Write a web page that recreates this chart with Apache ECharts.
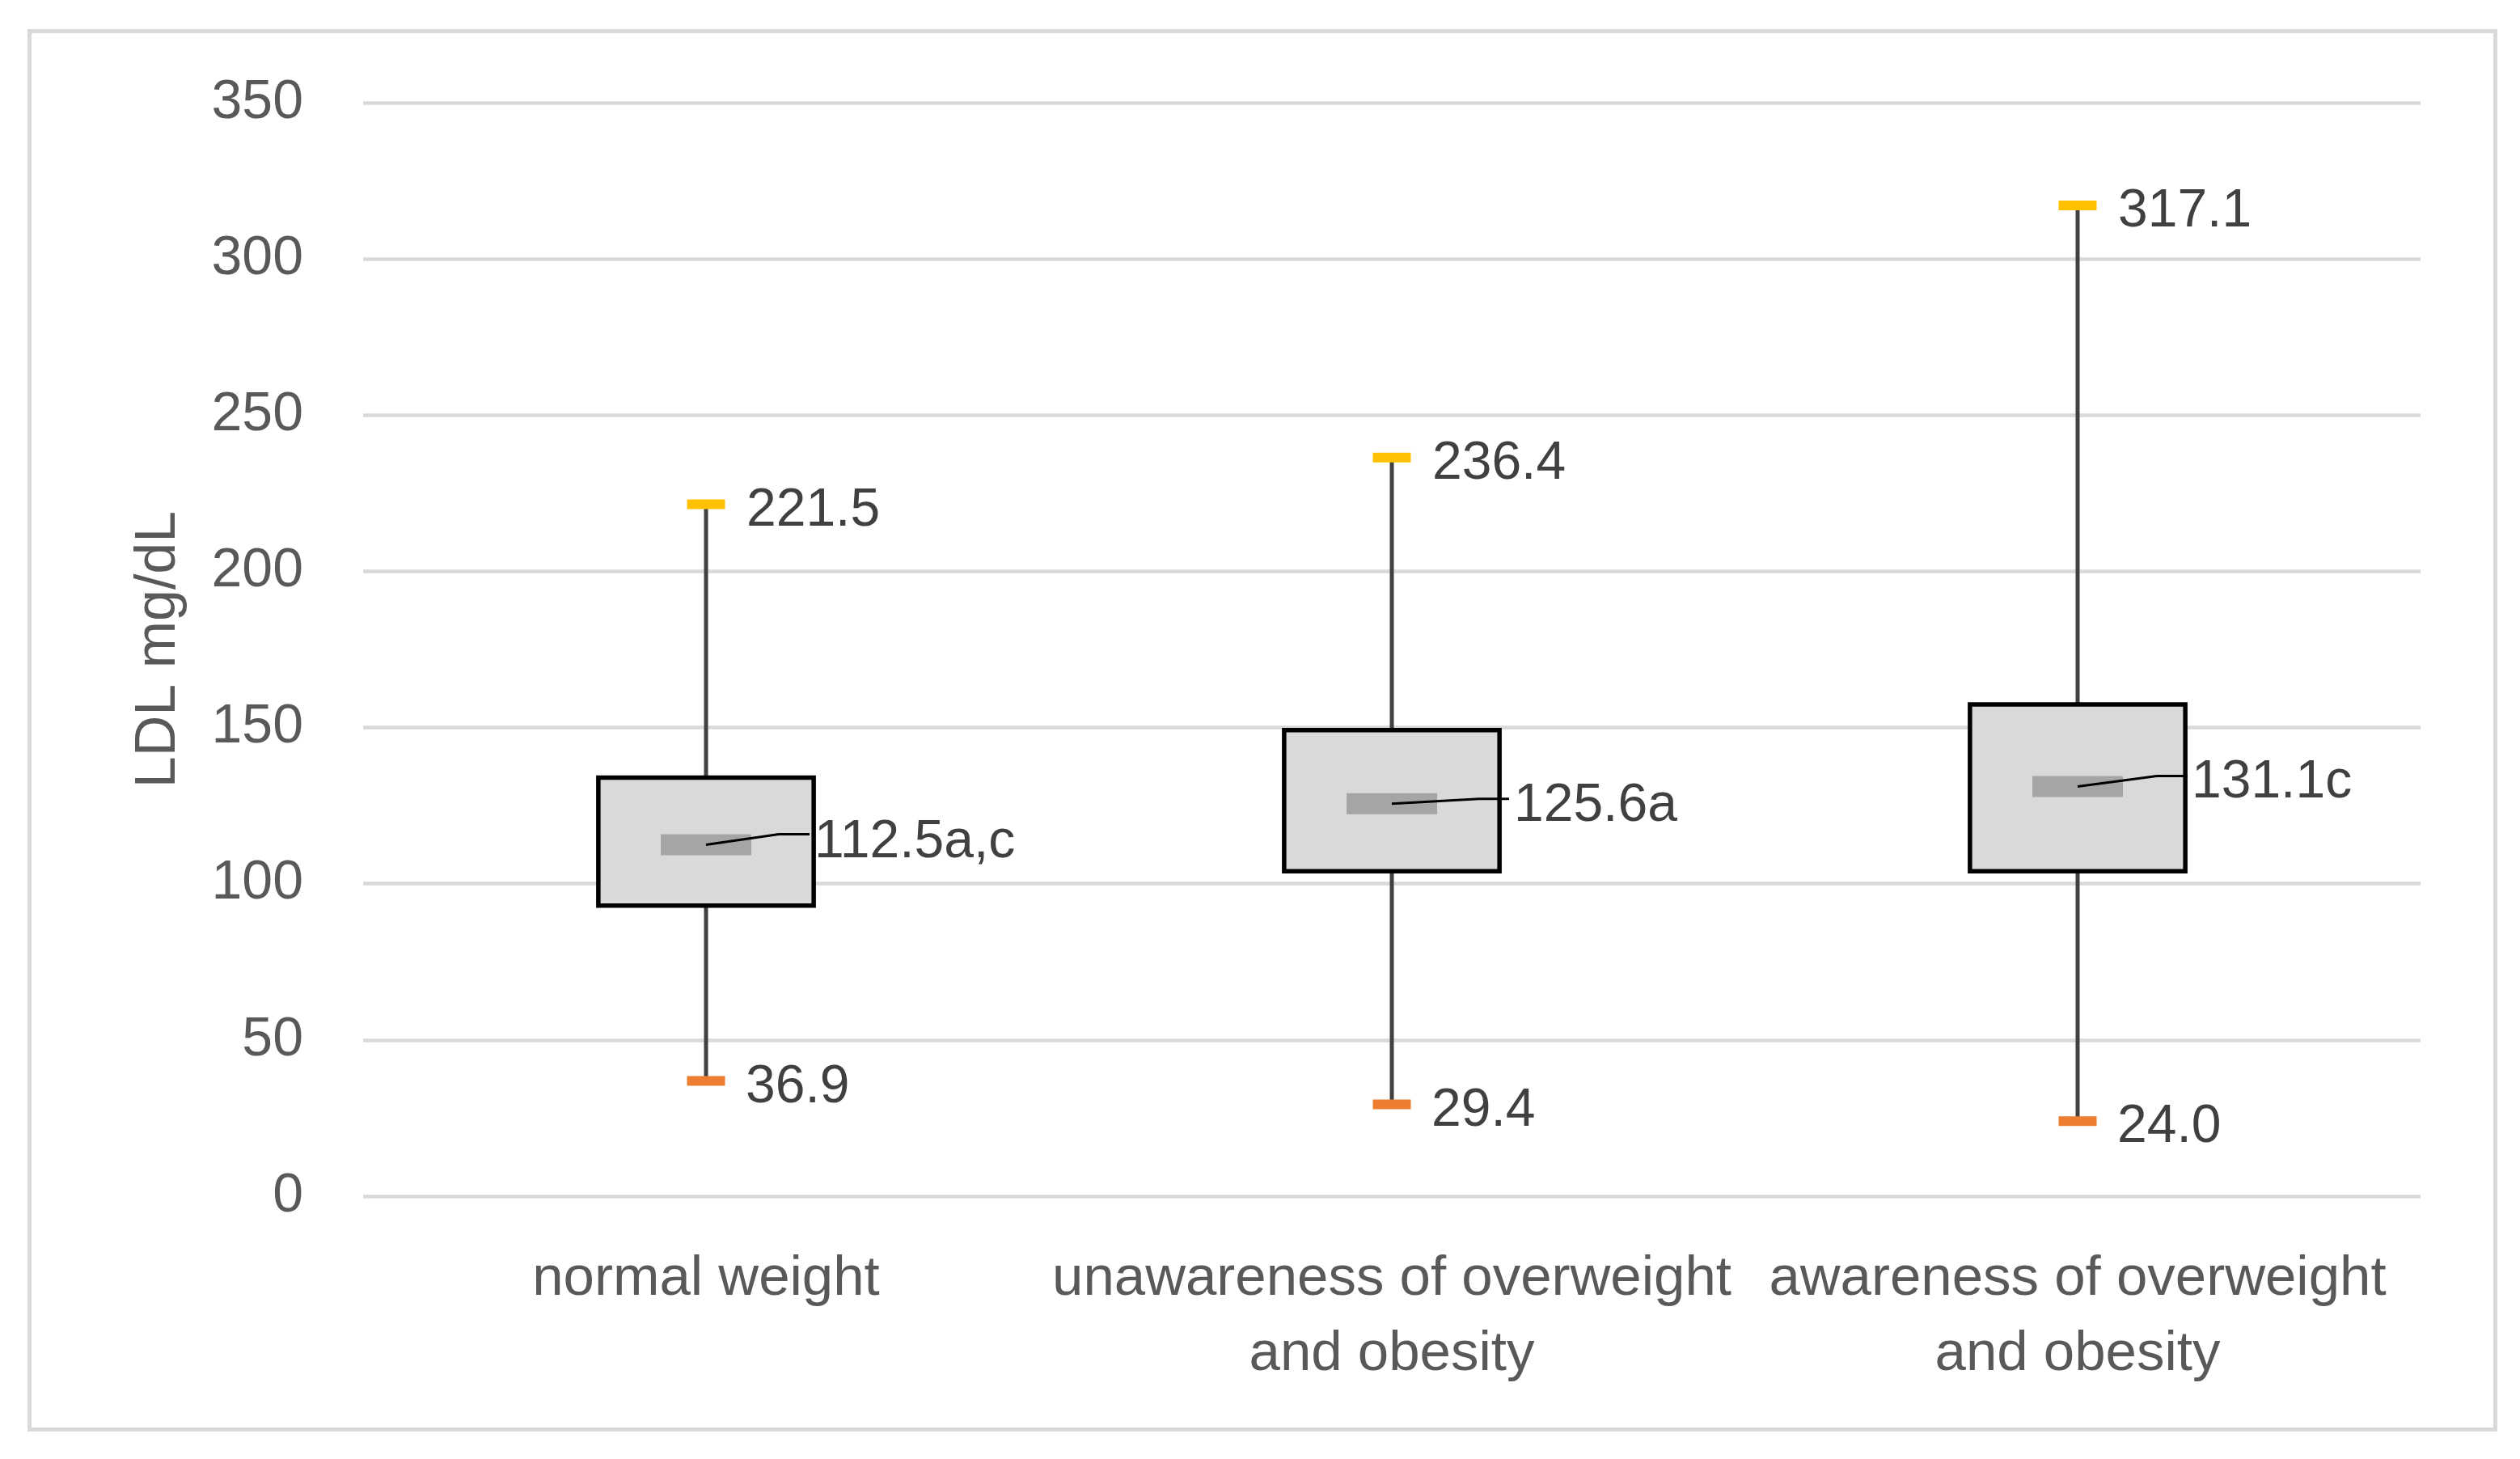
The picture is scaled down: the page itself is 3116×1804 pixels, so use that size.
<!DOCTYPE html>
<html>
<head>
<meta charset="utf-8">
<script src="https://cdn.jsdelivr.net/npm/echarts@6/dist/echarts.min.js"></script>
<style>
html,body{margin:0;padding:0;background:#fff;}
#chart{width:3116px;height:1804px;}
</style>
</head>
<body>
<div id="chart"></div>
<script>
// ---- data ----
const categories = ['normal weight', 'unawareness of overweight\nand obesity', 'awareness of overweight\nand obesity'];
const minValues = [36.9, 29.4, 24.0];
const q1Values = [93.0, 104.0, 104.0];
const medianValues = [112.5, 125.6, 131.1];
const q3Values = [134.0, 149.2, 157.4];
const maxValues = [221.5, 236.4, 317.1];
const medianLabels = ['112.5a,c', '125.6a', '131.1c'];
const yTicks = [0, 50, 100, 150, 200, 250, 300, 350];

// ---- layout/style constants (pixels) ----
const leaderLayout = [
  {kx: 90, ky: -13, ex: 128, tx: 134, ty: -3},
  {kx: 108, ky: -6, ex: 145, tx: 151, ty: 3},
  {kx: 98, ky: -13, ex: 136, tx: 141, ty: -5}
];
const FONT = '"Liberation Sans", Arial, sans-serif';

const seriesData = categories.map((c, i) => [i, minValues[i], q1Values[i], medianValues[i], q3Values[i], maxValues[i]]);

const chart = echarts.init(document.getElementById('chart'), null, {renderer: 'canvas'});

function renderItem(params, api) {
  const i = api.value(0);
  const pMin = api.coord([i, api.value(1)]);
  const pQ1 = api.coord([i, api.value(2)]);
  const pMed = api.coord([i, api.value(3)]);
  const pQ3 = api.coord([i, api.value(4)]);
  const pMax = api.coord([i, api.value(5)]);
  const cx = pMed[0];
  const bw = api.size([1, 0])[0] * 0.314;
  const L = leaderLayout[i];
  const textStyle = (x, y, t) => ({
    x: x, y: y, text: t, fill: '#404040', fontSize: 66, fontFamily: FONT,
    align: 'left', verticalAlign: 'middle'
  });
  return {
    type: 'group',
    children: [
      {type: 'line', shape: {x1: cx, y1: pMin[1], x2: cx, y2: pMax[1]},
        style: {stroke: '#404040', lineWidth: 5}},
      {type: 'rect', shape: {x: cx - bw / 2, y: pQ3[1], width: bw, height: pQ1[1] - pQ3[1]},
        style: {fill: '#d9d9d9', stroke: '#000000', lineWidth: 5.5}},
      {type: 'rect', shape: {x: cx - 56, y: pMed[1] - 13, width: 112, height: 26},
        style: {fill: '#a5a5a5'}},
      {type: 'rect', shape: {x: cx - 23.5, y: pMax[1] - 6, width: 47, height: 12},
        style: {fill: '#ffc000'}},
      {type: 'rect', shape: {x: cx - 23.5, y: pMin[1] - 6, width: 47, height: 12},
        style: {fill: '#ed7d31'}},
      {type: 'polyline', shape: {points: [[cx, pMed[1]], [cx + L.kx, pMed[1] + L.ky], [cx + L.ex, pMed[1] + L.ky]]},
        style: {stroke: '#000000', lineWidth: 3, fill: null}},
      {type: 'text', style: textStyle(cx + 50, pMax[1] + 8, api.value(5).toFixed(1))},
      {type: 'text', style: textStyle(cx + 49, pMin[1] + 8, api.value(1).toFixed(1))},
      {type: 'text', style: textStyle(cx + L.tx, pMed[1] + L.ty, medianLabels[i])}
    ]
  };
}

const option = {
  backgroundColor: '#ffffff',
  animation: false,
  grid: {left: 449, right: 123, top: 127, bottom: 325, containLabel: false},
  graphic: [{
    type: 'rect', left: 34, top: 36, z: -10,
    shape: {x: 0, y: 0, width: 3049, height: 1729},
    style: {fill: 'none', stroke: '#d9d9d9', lineWidth: 5}
  }],
  xAxis: {
    type: 'category',
    data: categories,
    boundaryGap: true,
    axisLine: {show: false},
    axisTick: {show: false},
    axisLabel: {
      color: '#595959', fontSize: 69, fontFamily: FONT, lineHeight: 93, margin: 56, interval: 0
    },
    splitLine: {show: false}
  },
  yAxis: {
    type: 'value',
    min: yTicks[0],
    max: yTicks[yTicks.length - 1],
    interval: 50,
    name: 'LDL mg/dL',
    nameLocation: 'middle',
    nameGap: 217,
    nameTextStyle: {color: '#595959', fontSize: 70, fontFamily: FONT},
    axisLine: {show: false},
    axisTick: {show: false},
    axisLabel: {color: '#595959', fontSize: 68, fontFamily: FONT, margin: 74, padding: [10, 0, 0, 0]},
    splitLine: {lineStyle: {color: '#d9d9d9', width: 4.5}}
  },
  series: [{
    type: 'custom',
    renderItem: renderItem,
    data: seriesData,
    encode: {x: 0, y: [1, 2, 3, 4, 5]},
    clip: false
  }]
};
chart.setOption(option);
</script>
</body>
</html>
